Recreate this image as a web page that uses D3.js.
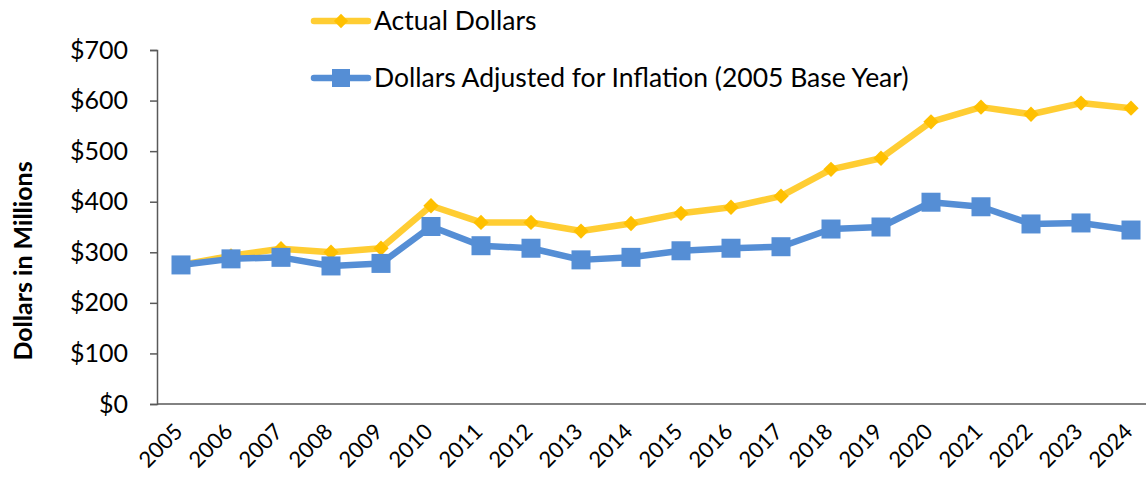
<!DOCTYPE html>
<html>
<head>
<meta charset="utf-8">
<script src="https://cdn.jsdelivr.net/npm/d3@7"></script>
<style>
  body { margin: 0; background: #fff; }
  svg { font-family: Lato, "Open Sans", sans-serif; }
</style>
</head>
<body>
<svg id="chart" width="1146" height="477"></svg>
<script>
  // chart data
  const years = ["2005","2006","2007","2008","2009","2010","2011","2012","2013","2014",
                 "2015","2016","2017","2018","2019","2020","2021","2022","2023","2024"];
  const actualDollars = [275, 293, 307, 300, 308, 392, 359, 359, 342, 357,
                         377, 389, 411, 464, 486, 558, 587, 573, 595, 585];
  const adjustedDollars = [275, 287, 290, 273, 278, 351, 313, 308, 285, 290,
                           303, 308, 311, 346, 350, 399, 390, 356, 358, 344];
  const yTicks = [0, 100, 200, 300, 400, 500, 600, 700];
  const legendLabels = ["Actual Dollars", "Dollars Adjusted for Inflation (2005 Base Year)"];

  const svg = d3.select("#chart");

  const x = d3.scaleBand().domain(years).range([156, 1156]).paddingInner(0);
  const y = d3.scaleLinear().domain([0, 700]).range([404, 50]);
  const cx = d => x(d) + x.bandwidth() / 2;

  const orange = "#FFC000";
  const blue = "#558ED5";

  // Y AXIS
  const yAxis = svg.append("g")
      .attr("transform", "translate(157,0)")
      .call(d3.axisLeft(y).tickValues(yTicks).tickSize(7).tickFormat(d => "$" + d));
  yAxis.attr("font-family", null);
  yAxis.select(".domain").attr("stroke", "#595959").attr("stroke-width", 1.5);
  yAxis.selectAll(".tick line").attr("stroke", "#595959").attr("stroke-width", 1.5);
  yAxis.selectAll(".tick text")
      .attr("x", -29)
      .attr("fill", "#000")
      .style("font-size", "25px");

  // X AXIS
  svg.append("line")
      .attr("x1", 157).attr("x2", 1146)
      .attr("y1", 404).attr("y2", 404)
      .attr("stroke", "#595959").attr("stroke-width", 1.5);

  // year labels, rotated
  svg.append("g").selectAll("text").data(years).enter().append("text")
      .attr("transform", d => `translate(${cx(d) + 3},${433}) rotate(-45)`)
      .attr("text-anchor", "end")
      .style("font-size", "22px")
      .attr("fill", "#000")
      .text(d => d);

  // Y TITLE
  svg.append("text")
      .attr("transform", "translate(32,261) rotate(-90)")
      .attr("text-anchor", "middle")
      .style("font-size", "25px")
      .style("font-weight", "bold")
      .attr("fill", "#000")
      .text("Dollars in Millions");

  const line = d3.line().x((d, i) => cx(years[i])).y(d => y(d));

  // ACTUAL (orange, diamonds)
  svg.append("path").datum(actualDollars)
      .attr("d", line)
      .attr("fill", "none")
      .attr("stroke", orange)
      .attr("stroke-opacity", 0.8)
      .attr("stroke-width", 6.5)
      .attr("stroke-linejoin", "round");
  svg.append("g").selectAll("path").data(actualDollars).enter().append("path")
      .attr("d", d3.symbol(d3.symbolDiamond2, 150)())
      .attr("transform", (d, i) => `translate(${cx(years[i])},${y(d)})`)
      .attr("fill", orange);

  // ADJUSTED (blue, squares)
  svg.append("path").datum(adjustedDollars)
      .attr("d", line)
      .attr("fill", "none")
      .attr("stroke", blue)
      .attr("stroke-width", 6.5)
      .attr("stroke-linejoin", "round");
  svg.append("g").selectAll("rect").data(adjustedDollars).enter().append("rect")
      .attr("x", (d, i) => cx(years[i]) - 9.5)
      .attr("y", d => y(d) - 9.5)
      .attr("width", 19).attr("height", 19)
      .attr("fill", blue);

  // LEGEND
  const legend = svg.append("g");
  legend.append("line").attr("x1", 314).attr("x2", 368).attr("y1", 21).attr("y2", 21)
      .attr("stroke", orange).attr("stroke-opacity", 0.8).attr("stroke-width", 6.5).attr("stroke-linecap", "round");
  legend.append("path").attr("d", d3.symbol(d3.symbolDiamond2, 130)())
      .attr("transform", "translate(341,21)").attr("fill", orange);
  legend.append("line").attr("x1", 314).attr("x2", 368).attr("y1", 78).attr("y2", 78)
      .attr("stroke", blue).attr("stroke-width", 6.5).attr("stroke-linecap", "round");
  legend.append("rect").attr("x", 332).attr("y", 69).attr("width", 18).attr("height", 18)
      .attr("fill", blue);
  legend.selectAll("text").data(legendLabels).enter().append("text")
      .attr("x", 374)
      .attr("y", (d, i) => 21 + i * 57)
      .attr("dy", "0.35em")
      .style("font-size", "26.5px")
      .attr("fill", "#000")
      .text(d => d);
</script>
</body>
</html>
